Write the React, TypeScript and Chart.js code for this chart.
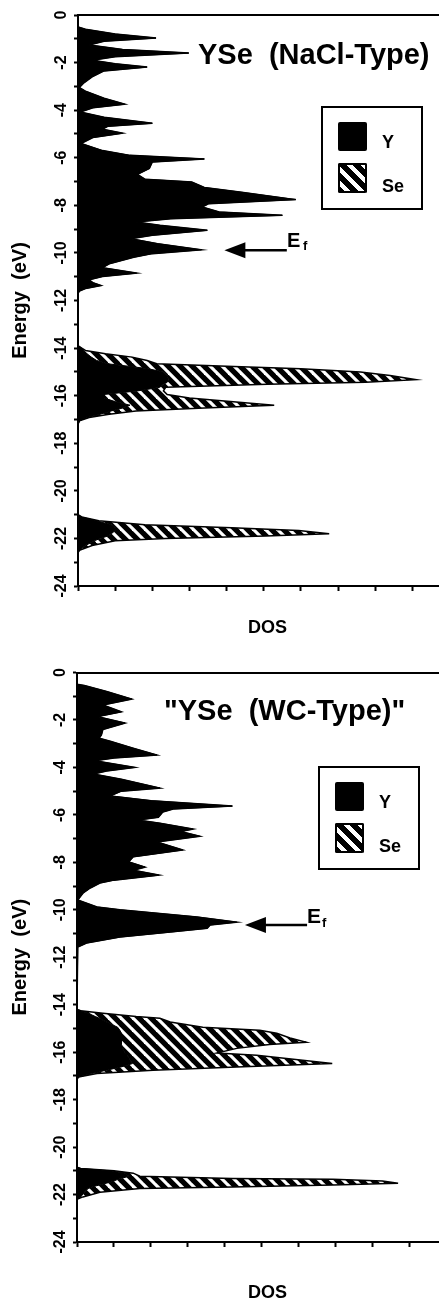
import React, { useEffect, useRef } from "react";
import { Chart, registerables } from "chart.js";

Chart.register(...registerables);

// ---------- DATA ----------
// Panel 1: YSe (NaCl-Type)
const naclEnergy = [
  0, -0.5, -0.6, -0.8, -0.97, -1.1, -1.26, -1.45, -1.6, -1.75, -1.9, -2.05, -2.19, -2.35, -2.6, -2.85, -3.05,
  -3.2, -3.5, -3.75, -3.9, -4.08, -4.3, -4.55, -4.68, -4.8, -4.97, -5.15, -5.4, -5.7, -5.9, -6.05, -6.18,
  -6.45, -6.7, -6.9, -7.02, -7.25, -7.45, -7.76, -7.93, -8.07, -8.28, -8.42, -8.56, -8.7, -8.84, -9.05,
  -9.26, -9.4, -9.61, -9.87, -10.03, -10.18, -10.46, -10.62, -10.85, -10.99, -11.13, -11.25, -11.37, -11.5,
  -11.6, -11.7,
  -13.9, -14.0, -14.1, -14.24, -14.38, -14.52, -14.66, -14.77, -14.87, -15.01, -15.15, -15.33, -15.44,
  -15.52, -15.65, -15.8, -15.95, -16.1, -16.25, -16.4, -16.52, -16.64, -16.78, -16.92, -17.06, -17.2,
  -21.0, -21.1, -21.26, -21.43, -21.55, -21.67, -21.8, -21.9, -22.0, -22.1, -22.3, -22.5, -22.6, -24,
];
const naclY = [
  0, 0, 0.1, 0.5, 1.05, 0.35, 0.15, 0.6, 1.49, 0.5, 0.19, 0.5, 0.93, 0.35, 0.19, 0.08, 0.02,
  0.1, 0.35, 0.63, 0.2, 0.03, 0.35, 1.0, 0.4, 0.33, 0.6, 0.2, 0.04, 0.33, 0.7, 1.7, 1.0,
  0.96, 0.8, 0.9, 1.53, 1.7, 2.2, 2.93, 1.76, 1.67, 1.9, 2.75, 1.25, 0.78, 1.1, 1.74,
  1.0, 0.71, 1.07, 1.66, 1.0, 0.75, 0.42, 0.33, 0.79, 0.33, 0.15, 0.2, 0.31, 0.1,
  0.02, 0,
  0, 0.05, 0.07, 0.12, 0.18, 0.25, 0.4, 0.7, 0.95, 1.15, 1.2, 1.22, 1.2,
  1.15, 1.1, 0.8, 0.35, 0.35, 0.5, 0.7, 0.6, 0.45, 0.3, 0.12, 0.02, 0,
  0, 0.05, 0.25, 0.45, 0.5, 0.5, 0.45, 0.4, 0.3, 0.22, 0.1, 0.02, 0, 0,
];
const naclSe = [
  0, 0, 0, 0, 0, 0, 0, 0, 0, 0, 0, 0, 0, 0, 0, 0, 0,
  0, 0, 0, 0, 0, 0, 0, 0, 0, 0, 0, 0, 0, 0, 0, 0,
  0, 0, 0, 0, 0, 0, 0, 0, 0, 0, 0, 0, 0, 0, 0,
  0, 0, 0, 0, 0, 0, 0, 0, 0, 0, 0, 0, 0, 0,
  0, 0,
  0, 0, 0.03, 0.25, 0.55, 0.68, 0.66, 1.4, 2.05, 2.65, 3.0, 3.33, 2.67,
  1.4, 0.08, 0.35, 0.85, 1.15, 1.55, 1.94, 1.1, 0.33, 0.12, 0.03, 0, 0,
  0, 0, 0.03, 0.45, 1.57, 2.47, 2.93, 2.13, 0.88, 0.28, 0.09, 0, 0, 0,
];

// Panel 2: "YSe (WC-Type)"
const wcEnergy = [
  0, -0.5, -0.55, -0.8, -1.12, -1.37, -1.66, -1.86, -2.13, -2.4, -2.63, -2.77, -2.9, -3.2, -3.48, -3.6,
  -3.72, -4.0, -4.15, -4.28, -4.5, -4.87, -5.0, -5.2, -5.4, -5.63, -5.75, -5.88, -6.1, -6.22, -6.35,
  -6.6, -6.7, -6.9, -7.14, -7.48, -7.77, -7.98, -8.2, -8.33, -8.54, -8.75, -8.87, -9.08, -9.3, -9.59,
  -9.88, -10.0, -10.3, -10.52, -10.64, -10.78, -10.94, -11.15, -11.4, -11.57, -11.7,
  -14.2, -14.25, -14.36, -14.5, -14.57, -14.73, -14.95, -15.08, -15.2, -15.4, -15.58, -15.68, -15.84,
  -16.04, -16.13, -16.34, -16.48, -16.62, -16.76, -16.9, -17.05, -17.15,
  -20.85, -20.9, -21.0, -21.1, -21.23, -21.32, -21.36, -21.43, -21.52, -21.6, -21.68, -21.75, -21.9,
  -22.1, -22.2, -24,
];
const wcY = [
  0, 0, 0.1, 0.4, 0.74, 0.35, 0.6, 0.28, 0.65, 0.35, 0.33, 0.3, 0.45, 0.77, 1.08, 0.5,
  0.24, 0.78, 0.4, 0.22, 0.6, 1.12, 0.6, 0.45, 1.0, 2.1, 1.3, 1.16, 1.1, 0.82, 1.12,
  1.57, 1.4, 1.66, 1.08, 1.43, 0.76, 0.7, 0.92, 0.76, 1.11, 0.5, 0.31, 0.18, 0.08, 0.01,
  0.27, 0.58, 1.62, 2.16, 1.8, 1.76, 1.26, 0.58, 0.13, 0.01, 0,
  0, 0.05, 0.15, 0.25, 0.3, 0.4, 0.55, 0.58, 0.6, 0.6, 0.6, 0.6, 0.62,
  0.65, 0.68, 0.72, 0.75, 0.6, 0.4, 0.2, 0.02, 0,
  0, 0.05, 0.45, 0.65, 0.7, 0.6, 0.55, 0.5, 0.4, 0.3, 0.2, 0.15, 0.1,
  0.05, 0, 0,
];
const wcSe = [
  0, 0, 0, 0, 0, 0, 0, 0, 0, 0, 0, 0, 0, 0, 0, 0,
  0, 0, 0, 0, 0, 0, 0, 0, 0, 0, 0, 0, 0, 0, 0,
  0, 0, 0, 0, 0, 0, 0, 0, 0, 0, 0, 0, 0, 0, 0,
  0, 0, 0, 0, 0, 0, 0, 0, 0, 0, 0,
  0, 0, 0.2, 0.55, 0.82, 0.86, 1.15, 1.89, 2.1, 2.28, 2.5, 2.0, 1.54,
  1.24, 1.75, 2.33, 2.7, 1.56, 0.63, 0.07, 0, 0,
  0, 0, 0.05, 0.11, 0.15, 1.5, 2.91, 3.63, 3.94, 3.16, 1.9, 0.7, 0.21,
  0.03, 0, 0,
];

const seriesLabels = ["Y", "Se"];
const panelTitles = ["YSe  (NaCl-Type)", "\"YSe  (WC-Type)\""];
const xAxisTitle = "DOS";
const yAxisTitle = "Energy  (eV)";
const fermiEnergy = [-9.89, -10.64];
const fermiArrowTip = [1.97, 2.27];
const fermiArrowTail = [2.81, 3.11];

const FONT = '"Liberation Sans", Arial, Helvetica, sans-serif';

function makeHatch(): CanvasPattern | string {
  const s = 12;
  const c = document.createElement("canvas");
  c.width = s;
  c.height = s;
  const g = c.getContext("2d");
  if (!g) return "#000";
  g.fillStyle = "#000";
  g.fillRect(0, 0, s, s);
  g.strokeStyle = "#fff";
  g.lineWidth = 3.2;
  for (const off of [-s, 0, s]) {
    g.beginPath();
    g.moveTo(off - 2, -2);
    g.lineTo(off + s + 2, s + 2);
    g.stroke();
  }
  return g.createPattern(c, "repeat") || "#000";
}

type PanelLayout = {
  top: number;
  width: number;
  height: number;
  padTop: number;
  axisLeft: number;
  xAxisH: number;
  xMax: number;
  dosPadBottom: number;
};

function DosPanel(props: {
  energy: number[];
  y: number[];
  se: number[];
  idx: number;
  L: PanelLayout;
  titleLeft: number;
  titleTop: number;
  legendLeft: number;
  legendTop: number;
  efLeft: number;
  efTop: number;
  efSize: number;
  subLeft: number;
  subTop: number;
}) {
  const ref = useRef<HTMLCanvasElement | null>(null);
  const { energy, y, se, idx, L } = props;

  useEffect(() => {
    if (!ref.current) return;
    const hatch = makeHatch();
    const arrowPlugin = {
      id: "fermiArrow" + idx,
      afterDatasetsDraw(chart: any) {
        const { ctx } = chart;
        const xs = chart.scales.x;
        const ys = chart.scales.y;
        const py = ys.getPixelForValue(fermiEnergy[idx]);
        const tip = xs.getPixelForValue(fermiArrowTip[idx]);
        const tail = xs.getPixelForValue(fermiArrowTail[idx]);
        ctx.save();
        ctx.strokeStyle = "#000";
        ctx.fillStyle = "#000";
        ctx.lineWidth = 2.5;
        ctx.beginPath();
        ctx.moveTo(tip + 15, py);
        ctx.lineTo(tail, py);
        ctx.stroke();
        ctx.beginPath();
        ctx.moveTo(tip, py);
        ctx.lineTo(tip + 21, py - 8);
        ctx.lineTo(tip + 21, py + 8);
        ctx.closePath();
        ctx.fill();
        ctx.restore();
      },
    };

    const chart = new Chart(ref.current, {
      type: "line",
      data: {
        datasets: [
          {
            label: seriesLabels[0],
            data: energy.map((e, i) => ({ x: y[i], y: e })),
            borderColor: "#000",
            borderWidth: 1,
            backgroundColor: "#000",
            fill: "origin",
            pointRadius: 0,
            tension: 0,
            xAxisID: "x",
            yAxisID: "y",
          },
          {
            label: seriesLabels[1],
            data: energy.map((e, i) => ({ x: se[i], y: e })),
            borderColor: "#000",
            borderWidth: 1.5,
            backgroundColor: hatch as any,
            fill: "-1",
            pointRadius: 0,
            tension: 0,
            xAxisID: "x",
            yAxisID: "y",
          },
        ],
      },
      options: {
        indexAxis: "y",
        responsive: false,
        maintainAspectRatio: false,
        animation: false,
        events: [],
        layout: { padding: { top: L.padTop, bottom: 0, left: 0, right: 0 } },
        plugins: {
          legend: { display: false },
          tooltip: { enabled: false },
          title: { display: false },
        },
        scales: {
          x: {
            type: "linear",
            position: "bottom",
            min: 0,
            max: L.xMax,
            stacked: true,
            afterFit: (s: any) => {
              s.height = L.xAxisH;
            },
            border: { display: true, color: "#000", width: 2 },
            grid: {
              display: true,
              drawOnChartArea: false,
              drawTicks: true,
              tickLength: 5,
              tickWidth: 2,
              tickColor: "#000",
              color: "#000",
            },
            ticks: { display: false, stepSize: 0.5, includeBounds: false },
            title: {
              display: true,
              text: xAxisTitle,
              color: "#000",
              font: { family: FONT, weight: "bold", size: 18 },
              padding: { top: 0, bottom: L.dosPadBottom },
            },
          },
          x2: {
            type: "linear",
            position: "top",
            min: 0,
            max: L.xMax,
            afterFit: (s: any) => {
              s.height = 0;
            },
            border: { display: true, color: "#000", width: 2 },
            grid: { display: false, drawTicks: false },
            ticks: { display: false },
          },
          y: {
            type: "linear",
            min: -24,
            max: 0,
            afterFit: (s: any) => {
              s.width = L.axisLeft;
            },
            border: { display: true, color: "#000", width: 2 },
            grid: {
              display: true,
              drawOnChartArea: false,
              drawTicks: true,
              tickLength: 4,
              tickWidth: 2,
              tickColor: "#000",
              color: "#000",
            },
            ticks: {
              stepSize: 1,
              autoSkip: false,
              minRotation: 90,
              maxRotation: 90,
              crossAlign: "center",
              padding: 1,
              color: "#000",
              font: { family: FONT, weight: "bold", size: 16 },
              callback: (v: any) => (Number(v) % 2 === 0 ? String(v) : ""),
            },
            title: {
              display: true,
              text: yAxisTitle,
              color: "#000",
              font: { family: FONT, weight: "bold", size: 20 },
              padding: { top: 8, bottom: 0 },
            },
          },
        },
      } as any,
      plugins: [arrowPlugin],
    });
    return () => chart.destroy();
  }, []);

  const boxStyle: React.CSSProperties = {
    position: "absolute",
    left: props.legendLeft,
    top: props.legendTop,
    width: 102,
    height: 104,
    border: "2px solid #000",
    boxSizing: "border-box",
    background: "#fff",
  };
  const txt = (size: number): React.CSSProperties => ({
    position: "absolute",
    fontFamily: FONT,
    fontWeight: "bold",
    fontSize: size,
    lineHeight: `${size}px`,
    color: "#000",
    whiteSpace: "pre",
    margin: 0,
  });

  return (
    <div style={{ position: "absolute", left: 0, top: L.top, width: L.width, height: L.height }}>
      <canvas ref={ref} width={L.width} height={L.height} style={{ display: "block", width: L.width, height: L.height }} />
      <div style={{ ...txt(29), left: props.titleLeft, top: props.titleTop }}>{panelTitles[idx]}</div>
      <div style={boxStyle}>
        <div style={{ position: "absolute", left: 15, top: 14, width: 29, height: 29, background: "#000", borderRadius: 2 }} />
        <div style={{ ...txt(18), left: 59, top: 25 }}>{seriesLabels[0]}</div>
        <div
          style={{
            position: "absolute",
            left: 15,
            top: 55,
            width: 29,
            height: 30,
            borderRadius: 2,
            background: "repeating-linear-gradient(45deg, #000 0px, #000 6px, #fff 6px, #fff 10px)",
            boxShadow: "inset 0 0 0 2px #000",
          }}
        />
        <div style={{ ...txt(18), left: 59, top: 69 }}>{seriesLabels[1]}</div>
      </div>
      <div style={{ ...txt(props.efSize), left: props.efLeft, top: props.efTop }}>E</div>
      <div style={{ ...txt(13), left: props.subLeft, top: props.subTop }}>f</div>
    </div>
  );
}

export default function App() {
  const L1: PanelLayout = {
    top: 0,
    width: 457,
    height: 645,
    padTop: 15,
    axisLeft: 78,
    xAxisH: 59,
    xMax: 5.1,
    dosPadBottom: 6,
  };
  const L2: PanelLayout = {
    top: 645,
    width: 458,
    height: 659,
    padTop: 27.5,
    axisLeft: 77,
    xAxisH: 62,
    xMax: 5.15,
    dosPadBottom: 0,
  };
  return (
    <div style={{ position: "absolute", left: 0, top: 0, width: 439, height: 1303, overflow: "hidden", background: "#fff" }}>
      <DosPanel
        energy={naclEnergy}
        y={naclY}
        se={naclSe}
        idx={0}
        L={L1}
        titleLeft={198}
        titleTop={40}
        legendLeft={321}
        legendTop={106}
        efLeft={287}
        efTop={230}
        efSize={20}
        subLeft={303}
        subTop={239}
      />
      <DosPanel
        energy={wcEnergy}
        y={wcY}
        se={wcSe}
        idx={1}
        L={L2}
        titleLeft={164}
        titleTop={51}
        legendLeft={318}
        legendTop={121}
        efLeft={307}
        efTop={260}
        efSize={21}
        subLeft={322}
        subTop={271}
      />
    </div>
  );
}
